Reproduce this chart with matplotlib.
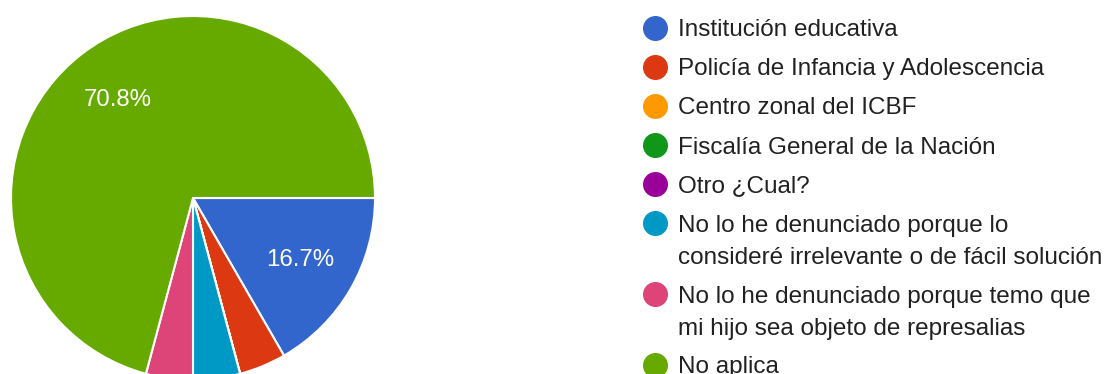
import matplotlib.pyplot as plt
from matplotlib.lines import Line2D

plt.rcParams['font.family'] = ['Liberation Sans', 'DejaVu Sans']

labels = [
    "Institución educativa",
    "Policía de Infancia y Adolescencia",
    "Centro zonal del ICBF",
    "Fiscalía General de la Nación",
    "Otro ¿Cual?",
    "No lo he denunciado porque lo\nconsideré irrelevante o de fácil solución",
    "No lo he denunciado porque temo que\nmi hijo sea objeto de represalias",
    "No aplica",
]
counts = [4, 1, 0, 0, 0, 1, 1, 17]
colors = ["#3366CC", "#DC3912", "#FF9900", "#109618", "#990099",
          "#0099C6", "#DD4477", "#66AA00"]

W, H = 1108, 374
fig = plt.figure(figsize=(W / 100, H / 100), dpi=100)

# pie axes: centre (193, 198) px, radius 182 px
cx, cy, r = 193, 198, 182
ax = fig.add_axes([(cx - r) / W, (H - cy - r) / H, 2 * r / W, 2 * r / H])


def pct(p):
    return f"{p:.1f}%" if p > 10 else ""


wedges, _, autotexts = ax.pie(
    counts, colors=colors, startangle=0, counterclock=False,
    autopct=pct, pctdistance=0.68, radius=1,
    wedgeprops=dict(edgecolor="white", linewidth=1.5),
    textprops=dict(color="white", fontsize=17.3),
)
ax.set_xlim(-1, 1)
ax.set_ylim(-1, 1)
ax.set_aspect("equal")
ax.axis("off")

# legend drawn row by row
y = 28
for lab, col in zip(labels, colors):
    fig.add_artist(Line2D([655 / W], [1 - y / H], marker="o", markersize=17,
                          color=col, linestyle="none", transform=fig.transFigure))
    lines = lab.split("\n")
    for k, line in enumerate(lines):
        fig.text(678 / W, 1 - (y + 32 * k) / H, line, fontsize=17.5,
                 color="#212121", va="center_baseline", ha="left")
    y += 39 + 32 * (len(lines) - 1)

fig.savefig("out.png", dpi=100)
